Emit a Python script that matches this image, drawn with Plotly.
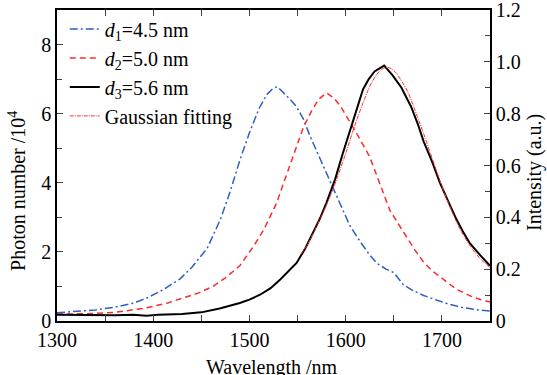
import plotly.graph_objects as go

# ---- data (photon number, units of 10^4) ----
wl_d1 = [1300, 1320, 1340, 1360, 1380, 1393, 1410, 1428, 1440, 1456, 1470, 1480, 1490, 1500, 1510,
         1518, 1524, 1529, 1535, 1542, 1549, 1556, 1563, 1571, 1578, 1584, 1594, 1604, 1615, 1624,
         1632, 1642, 1650, 1655, 1660, 1670, 1681, 1695, 1708, 1720, 1735, 1750]
d1 = [0.24, 0.27, 0.32, 0.40, 0.52, 0.66, 0.90, 1.22, 1.55, 2.10, 2.95, 3.75, 4.65, 5.45, 6.15,
      6.55, 6.72, 6.78, 6.62, 6.42, 6.20, 5.85, 5.35, 4.85, 4.40, 4.05, 3.40, 2.78, 2.30, 1.95,
      1.68, 1.50, 1.40, 1.22, 1.05, 0.88, 0.74, 0.60, 0.48, 0.40, 0.33, 0.29]

wl_d2 = [1300, 1330, 1360, 1393, 1415, 1435, 1448, 1462, 1475, 1490, 1504, 1515, 1528, 1535, 1545,
         1556, 1565, 1572, 1580, 1588, 1595, 1601, 1612, 1625, 1636, 1646, 1655, 1663, 1672, 1681,
         1690, 1698, 1707, 1715, 1730, 1740, 1750]
d2 = [0.20, 0.21, 0.25, 0.38, 0.52, 0.70, 0.82, 1.00, 1.25, 1.60, 2.15, 2.65, 3.40, 3.95, 4.75,
      5.60, 6.10, 6.42, 6.60, 6.45, 6.20, 5.92, 5.40, 4.75, 3.95, 3.20, 2.80, 2.45, 2.05, 1.70,
      1.45, 1.28, 1.08, 0.92, 0.72, 0.62, 0.55]

wl_d3 = [1300, 1330, 1360, 1379, 1393, 1405, 1430, 1450, 1469, 1490, 1500, 1511, 1522, 1532, 1540,
         1549, 1558, 1566, 1573, 1580, 1589, 1597, 1604, 1611, 1618, 1624, 1630, 1640, 1649, 1658,
         1668, 1675, 1681, 1690, 1698, 1706, 1715, 1722, 1729, 1740, 1750]
d3 = [0.18, 0.17, 0.17, 0.18, 0.15, 0.18, 0.20, 0.25, 0.36, 0.52, 0.62, 0.76, 0.95, 1.20, 1.42,
      1.68, 2.10, 2.54, 2.95, 3.42, 4.10, 4.85, 5.45, 6.10, 6.70, 7.00, 7.22, 7.39, 7.10, 6.75,
      6.20, 5.70, 5.20, 4.60, 4.00, 3.50, 2.95, 2.58, 2.25, 1.90, 1.60]

wl_fit = [1553, 1560, 1570, 1580, 1590, 1600, 1610, 1620, 1628, 1636, 1643, 1650, 1658, 1665, 1672,
          1680, 1690, 1700, 1710, 1720, 1730, 1740, 1750]
fit = [1.92, 2.20, 2.75, 3.35, 4.05, 4.85, 5.70, 6.45, 6.95, 7.25, 7.34, 7.25, 6.95, 6.60, 6.10,
       5.50, 4.70, 3.90, 3.20, 2.60, 2.15, 1.80, 1.55]

names = ["<i>d</i><sub>1</sub>=4.5 nm", "<i>d</i><sub>2</sub>=5.0 nm",
         "<i>d</i><sub>3</sub>=5.6 nm", "Gaussian fitting"]

x_ticks = [1300, 1400, 1500, 1600, 1700]
y_ticks = [0, 2, 4, 6, 8]
y2_ticks = [0, 0.2, 0.4, 0.6, 0.8, 1.0, 1.2]
y2_labels = ["0", "0.2", "0.4", "0.6", "0.8", "1.0", "1.2"]

FONT = '"Liberation Serif", "DejaVu Serif", "Times New Roman", serif'

fig = go.Figure()
fig.add_trace(go.Scatter(x=wl_d1, y=d1, mode="lines", name=names[0],
                         line=dict(color="#2f5fc4", width=1.5, dash="8px,3px,2px,3px")))
fig.add_trace(go.Scatter(x=wl_d2, y=d2, mode="lines", name=names[1],
                         line=dict(color="#ff2a2a", width=1.5, dash="6px,4px")))
fig.add_trace(go.Scatter(x=wl_d3, y=d3, mode="lines", name=names[2],
                         line=dict(color="black", width=2)))
fig.add_trace(go.Scatter(x=wl_fit, y=fit, mode="lines", name=names[3],
                         line=dict(color="#ff3030", width=1, dash="4px,1px,1px,1px", shape="spline")))
# right-hand intensity axis (scale only)
fig.add_trace(go.Scatter(x=[1300], y=[0], yaxis="y2", mode="markers",
                         marker=dict(opacity=0), showlegend=False, hoverinfo="skip"))

tickfont = dict(family=FONT, size=20, color="black")
fig.update_layout(
    width=547, height=375,
    margin=dict(l=57, r=57, t=10, b=54, autoexpand=False),
    paper_bgcolor="white", plot_bgcolor="white",
    font=dict(family=FONT, size=20, color="black"),
    xaxis=dict(range=[1300, 1750], tickvals=x_ticks, ticks="inside", ticklen=6, tickwidth=1.2,
               showline=True, linecolor="black", linewidth=1.5, mirror="allticks",
               showgrid=False, zeroline=False, tickfont=tickfont, automargin=False,
               ticklabeloverflow="allow",
               minor=dict(ticks="inside", dtick=50, ticklen=4, tickwidth=1.2, showgrid=False)),
    yaxis=dict(range=[0, 9], tickvals=y_ticks, ticks="inside", ticklen=6, tickwidth=1.2,
               showline=True, linecolor="black", linewidth=1.5, showgrid=False, zeroline=False,
               tickfont=tickfont, automargin=False, ticklabeloverflow="allow",
               minor=dict(ticks="inside", dtick=1, ticklen=5, tickwidth=1.2, showgrid=False)),
    yaxis2=dict(range=[0, 1.2], overlaying="y", side="right", tickvals=y2_ticks, ticktext=y2_labels,
                ticks="inside", ticklen=6, tickwidth=1.2, showline=True, linecolor="black",
                linewidth=1.5, showgrid=False, zeroline=False, tickfont=tickfont,
                automargin=False, ticklabeloverflow="allow",
                minor=dict(ticks="inside", dtick=0.1, ticklen=5, tickwidth=1.2, showgrid=False)),
    legend=dict(x=0.018, y=1.002, xanchor="left", yanchor="top", bgcolor="rgba(0,0,0,0)",
                font=dict(family=FONT, size=20, color="black"), itemwidth=30,
                tracegroupgap=0),
    showlegend=True,
    annotations=[
        dict(text="Wavelength /nm", x=0.497, y=-0.15, xref="paper", yref="paper",
             showarrow=False, font=dict(family=FONT, size=20), xanchor="center", yanchor="middle"),
        dict(text="Photon number /10<sup>4</sup>", x=-0.0924, y=0.418, xref="paper", yref="paper",
             showarrow=False, textangle=-90, font=dict(family=FONT, size=20),
             xanchor="center", yanchor="middle"),
        dict(text="Intensity (a.u.)", x=1.104, y=0.476, xref="paper", yref="paper",
             showarrow=False, textangle=-90, font=dict(family=FONT, size=20),
             xanchor="center", yanchor="middle"),
    ],
)

fig.write_html("out.html", config={"displayModeBar": False},
               post_script="document.body.style.margin='0';document.body.style.padding='0';")
